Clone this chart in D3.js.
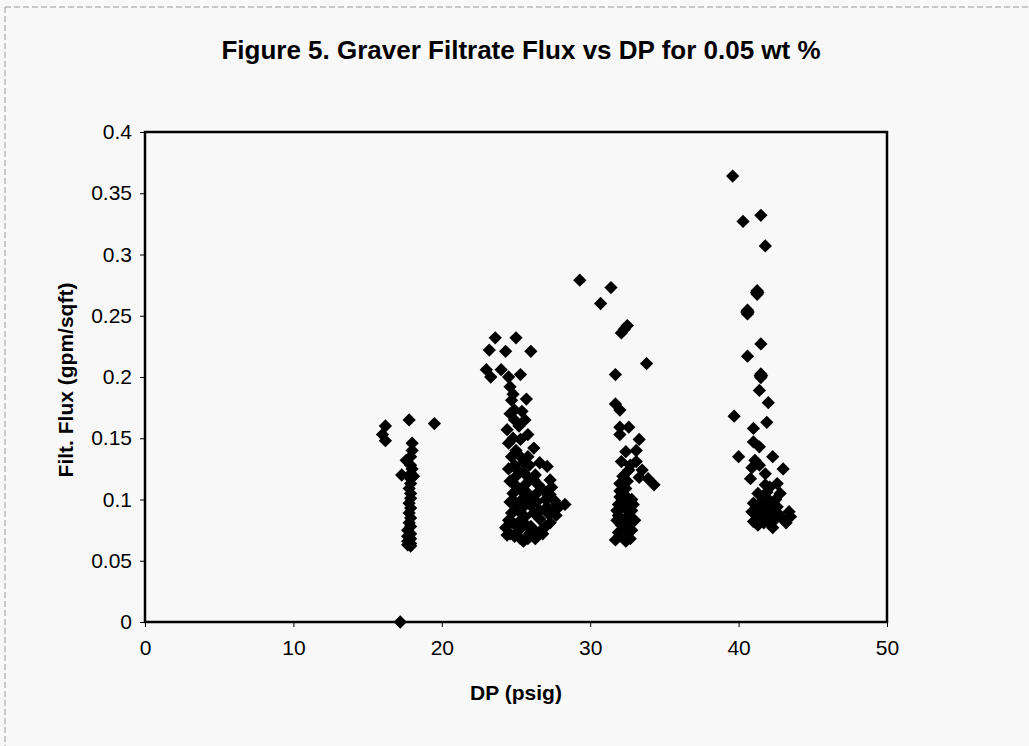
<!DOCTYPE html>
<html>
<head>
<meta charset="utf-8">
<script src="https://d3js.org/d3.v7.min.js"></script>
<style>
  body { margin: 0; background: #f8f8f8; }
  text { font-family: "Liberation Sans", Arial, sans-serif; fill: #000; }
</style>
</head>
<body>
<div id="chart"></div>
<script>
// data: [DP (psig), filtrate flux (gpm/sqft)]
const run17 = [
  [16.2, 0.160], [16.0, 0.153], [16.2, 0.148], [17.8, 0.165], [19.5, 0.162],
  [17.3, 0.120], [17.2, 0.0],
  [18.0, 0.146], [18.0, 0.140], [17.9, 0.135], [17.6, 0.132], [17.9, 0.128],
  [18.0, 0.125], [17.9, 0.121], [18.1, 0.119], [17.9, 0.117], [17.9, 0.113],
  [17.8, 0.109], [17.9, 0.105], [17.9, 0.101], [17.8, 0.097], [17.9, 0.093],
  [17.8, 0.089], [17.9, 0.085], [17.8, 0.081], [17.9, 0.078], [17.7, 0.075],
  [17.9, 0.072], [17.7, 0.070], [17.9, 0.068], [17.7, 0.066], [17.9, 0.064],
  [17.7, 0.063], [17.9, 0.062]
];
const run25 = [
  [23.6, 0.232], [25.0, 0.232], [23.2, 0.222], [24.3, 0.221], [26.0, 0.221],
  [23.0, 0.206], [24.0, 0.206], [23.3, 0.200], [25.3, 0.202], [24.5, 0.200],
  [25.7, 0.182], [24.6, 0.192], [24.7, 0.181], [24.9, 0.173], [24.9, 0.165],
  [25.6, 0.165], [24.4, 0.157], [25.8, 0.153], [24.5, 0.146], [25.3, 0.149],
  [26.2, 0.142], [24.7, 0.135], [25.8, 0.135], [26.6, 0.130], [25.5, 0.130],
  [27.1, 0.127], [25.0, 0.119], [25.7, 0.113], [26.2, 0.116], [27.3, 0.116],
  [25.3, 0.108], [26.8, 0.108], [24.8, 0.105], [26.1, 0.102], [25.5, 0.094],
  [28.3, 0.096], [27.7, 0.087], [26.6, 0.091], [24.7, 0.089], [25.3, 0.083],
  [27.3, 0.081], [26.8, 0.072], [24.3, 0.077], [24.9, 0.070], [25.5, 0.066],
  [25.9, 0.072], [25.1, 0.124], [25.4, 0.100], [25.0, 0.097], [25.6, 0.086],
  [26.0, 0.095], [26.4, 0.098], [27.0, 0.100], [27.4, 0.110], [26.6, 0.084],
  [27.0, 0.078], [25.2, 0.075], [24.6, 0.072], [25.3, 0.068], [26.0, 0.078],
  [24.8, 0.081], [26.3, 0.120], [25.0, 0.140], [24.8, 0.150], [25.2, 0.160],
  [24.6, 0.170], [25.4, 0.172], [24.8, 0.186], [25.1, 0.110], [25.8, 0.105],
  [26.5, 0.112], [27.5, 0.092], [27.9, 0.094],
  [24.5, 0.125], [25.3, 0.135], [25.9, 0.128], [24.9, 0.128], [25.6, 0.121],
  [24.6, 0.115], [25.9, 0.117], [24.9, 0.112], [26.4, 0.105], [24.6, 0.098],
  [25.8, 0.098], [26.2, 0.089], [24.9, 0.091], [25.4, 0.088], [24.5, 0.083],
  [25.7, 0.079], [26.3, 0.074], [25.0, 0.079], [24.4, 0.071], [25.8, 0.068],
  [26.3, 0.068], [26.7, 0.075], [27.2, 0.088], [27.1, 0.094], [27.6, 0.099],
  [27.3, 0.104]
];
const run32 = [
  [29.3, 0.279], [31.4, 0.273], [30.7, 0.260], [32.5, 0.242], [32.3, 0.239],
  [32.1, 0.236], [33.8, 0.211], [31.7, 0.202], [31.7, 0.178], [32.0, 0.173],
  [32.0, 0.159], [32.6, 0.159], [32.0, 0.153], [33.3, 0.149], [33.1, 0.140],
  [32.4, 0.139], [32.1, 0.131], [33.1, 0.131], [33.5, 0.124], [33.9, 0.117],
  [34.3, 0.112], [32.6, 0.124], [32.2, 0.119], [32.4, 0.109], [32.0, 0.102],
  [31.9, 0.096], [32.8, 0.100], [32.6, 0.090], [31.9, 0.087], [33.0, 0.083],
  [32.1, 0.079], [32.8, 0.075], [31.7, 0.067], [32.1, 0.070], [32.5, 0.072],
  [32.5, 0.086], [32.2, 0.094], [32.8, 0.091], [32.3, 0.082], [32.0, 0.113],
  [32.4, 0.098], [31.8, 0.091],
  [32.3, 0.104], [31.8, 0.083], [32.6, 0.080], [32.2, 0.075], [31.9, 0.073],
  [32.7, 0.068], [32.4, 0.066], [32.9, 0.096], [32.0, 0.107], [32.5, 0.115],
  [32.7, 0.128], [33.3, 0.118]
];
const run41 = [
  [39.6, 0.364], [40.3, 0.327], [41.5, 0.332], [41.8, 0.307],
  [41.2, 0.269], [41.3, 0.269], [41.25, 0.2705], [41.25, 0.2675],
  [40.55, 0.253], [40.65, 0.253], [40.6, 0.2545], [40.6, 0.2515],
  [41.5, 0.227], [40.6, 0.217],
  [41.45, 0.201], [41.55, 0.201], [41.5, 0.2025], [41.5, 0.1995],
  [41.4, 0.189], [42.0, 0.179], [39.7, 0.168],
  [41.9, 0.163], [41.0, 0.158], [41.0, 0.147], [41.4, 0.143], [40.0, 0.135],
  [42.3, 0.135], [41.1, 0.132], [41.4, 0.128], [40.9, 0.126], [43.0, 0.125],
  [41.8, 0.121], [40.8, 0.117], [41.8, 0.112], [42.6, 0.113], [41.3, 0.105],
  [42.8, 0.105], [41.0, 0.097], [42.0, 0.100], [42.6, 0.094], [43.4, 0.090],
  [41.4, 0.089], [42.1, 0.086], [41.0, 0.082], [41.7, 0.081], [42.3, 0.077],
  [43.2, 0.081], [42.9, 0.085], [41.2, 0.094], [41.8, 0.094], [42.3, 0.091],
  [41.6, 0.099], [42.4, 0.083], [41.4, 0.084],
  [41.1, 0.088], [41.6, 0.090], [42.0, 0.082], [41.3, 0.079], [42.2, 0.095],
  [42.5, 0.100], [41.9, 0.106], [42.1, 0.110], [40.9, 0.090], [42.7, 0.088],
  [43.5, 0.086]
];
const xTicks = [0, 10, 20, 30, 40, 50];
const yTicks = [0, 0.05, 0.1, 0.15, 0.2, 0.25, 0.3, 0.35, 0.4];
const yTickLabels = ["0", "0.05", "0.1", "0.15", "0.2", "0.25", "0.3", "0.35", "0.4"];

const margin = { top: 132, right: 142, bottom: 124, left: 145 };
const width = 1029 - margin.left - margin.right;
const height = 746 - margin.top - margin.bottom;

const svg = d3.select("#chart")
  .append("svg")
  .attr("width", 1029)
  .attr("height", 746);

// faint scan frame along the top and left edge
svg.append("line")
  .attr("x1", 5).attr("x2", 1029).attr("y1", 7).attr("y2", 7)
  .attr("stroke", "#999").attr("stroke-dasharray", "6,3");
svg.append("line")
  .attr("x1", 5).attr("x2", 5).attr("y1", 7).attr("y2", 746)
  .attr("stroke", "#999").attr("stroke-dasharray", "6,3");

const g = svg.append("g")
  .attr("transform", `translate(${margin.left},${margin.top})`);

const xScale = d3.scaleLinear().domain([0, 50]).range([0, width]);
const yScale = d3.scaleLinear().domain([0, 0.4]).range([height, 0]);

// axes
const xAxis = g.append("g")
  .attr("transform", `translate(0,${height})`)
  .call(d3.axisBottom(xScale).tickValues(xTicks).tickSize(5).tickPadding(13));
const yAxis = g.append("g")
  .call(d3.axisLeft(yScale).tickValues(yTicks).tickSize(5).tickPadding(8)
    .tickFormat((d, i) => yTickLabels[i]));

[xAxis, yAxis].forEach(a => {
  a.select(".domain").remove();
  a.selectAll("line").attr("stroke", "#000").attr("stroke-width", 1);
  a.selectAll("text").style("font-size", "21px").attr("font-family", "Liberation Sans, Arial");
});

// plot frame
g.append("rect")
  .attr("width", width)
  .attr("height", height)
  .attr("fill", "none")
  .attr("stroke", "#000")
  .attr("stroke-width", 2.5);

// markers: Excel style diamonds
const diamond = d3.symbol().type(d3.symbolSquare).size(88);
const allRuns = [run17, run25, run32, run41];
allRuns.forEach(run => {
  g.append("g").selectAll("path")
    .data(run)
    .enter()
    .append("path")
    .attr("d", diamond)
    .attr("transform", d => `translate(${xScale(d[0])},${yScale(d[1])}) rotate(45)`)
    .attr("fill", "#000");
});

// title
svg.append("text")
  .text("Figure 5. Graver Filtrate Flux vs DP for 0.05 wt %")
  .attr("x", 521)
  .attr("y", 59)
  .attr("text-anchor", "middle")
  .style("font-size", "26px")
  .style("font-weight", "bold");

// axis labels
svg.append("text")
  .text("DP (psig)")
  .attr("x", margin.left + width / 2)
  .attr("y", 700)
  .attr("text-anchor", "middle")
  .style("font-size", "21px")
  .style("font-weight", "bold");

svg.append("text")
  .text("Filt. Flux (gpm/sqft)")
  .attr("transform", "translate(73,380) rotate(-90)")
  .attr("text-anchor", "middle")
  .style("font-size", "21px")
  .style("font-weight", "bold");
</script>
</body>
</html>
